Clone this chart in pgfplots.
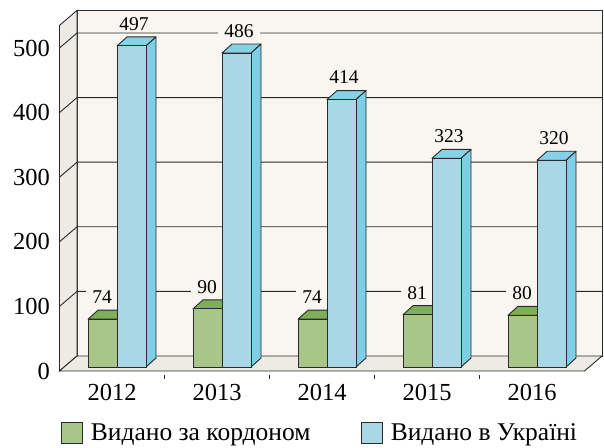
\documentclass[border=0pt]{standalone}
\usepackage{pgfplots}
\usepackage{pgfplotstable}
\pgfplotsset{compat=1.18}
\usepackage{fontspec}
\setmainfont{Liberation Serif}
\definecolor{wallback}{HTML}{F9F6F1}
\definecolor{wallside}{HTML}{EEEBE4}
\definecolor{greenfront}{HTML}{A8C68A}
\definecolor{greentop}{HTML}{7FAE5B}
\definecolor{bluefront}{HTML}{A9D7E6}
\definecolor{blueside}{HTML}{7ECFE5}
\definecolor{bluetop}{HTML}{86D1E6}
\definecolor{edge}{HTML}{2A2A2A}
\tikzset{
  Dsh/.style={shift={(17.5pt,15pt)}},
  bar3d/.style n args={4}{% #1 xshift, #2 front, #3 top, #4 side
    anchor=north west, inner sep=0pt, outer sep=0pt,
    minimum width=29pt, minimum height={\val*0.646pt},
    fill=#2, draw=edge, line width=0.9pt,
    xshift=#1, yshift=4pt,
    append after command={\pgfextra{%
      \filldraw[fill=#3, draw=edge, line width=0.9pt, line join=round]
        (\tikzlastnode.north west) -- ++(10pt,9pt) -- ++(29pt,0pt)
        -- (\tikzlastnode.north east) -- cycle;
      \filldraw[fill=#4, draw=edge, line width=0.9pt, line join=round]
        (\tikzlastnode.south east) -- ++(10pt,9pt)
        -- ([shift={(10pt,9pt)}]\tikzlastnode.north east)
        -- (\tikzlastnode.north east) -- cycle;
    }}
  },
  vallabel/.style={anchor=center, xshift=#1, yshift=26pt,
    fill=wallback, inner xsep=6pt, inner ysep=2pt, text=black,
    font=\fontsize{19.5}{22}\selectfont},
}

\pgfplotstableread{
x g b
0 74 497
1 90 486
2 74 414
3 81 323
4 80 320
}\datatable

\begin{document}
\begin{tikzpicture}
\path (0,0) rectangle (604pt,447pt);
\begin{axis}[
  set layers,
  at={(59.5pt,76pt)}, anchor=south west,
  x=105pt, y=0.646pt,
  xmin=-0.5, xmax=4.5, ymin=0, ymax=535,
  clip=false,
  axis line style={draw=none},
  tick style={draw=none},
  xtick={0,...,4}, xticklabels={2012,2013,2014,2015,2016},
  ytick={0,100,...,500},
  /pgf/number format/assume math mode=true,
  ticklabel style={font=\fontsize{24.5}{28}\selectfont},
  yticklabel style={anchor=east, inner sep=0pt, xshift=-9.5pt},
  xticklabel style={anchor=north, inner sep=0pt, yshift=-13pt},
  legend image code/.code={\draw[#1, draw=edge, line width=0.9pt] (0pt,-2.5pt) rectangle (21pt,18.5pt);},
  legend style={at={(0.0029,-0.179)}, anchor=west, draw=none, fill=none,
    inner sep=0pt, outer sep=0pt,
    font=\fontsize{25.5}{28}\selectfont,
    nodes={inner sep=0pt, anchor=base west},
    /tikz/every odd column/.style={column sep=8pt},
    /tikz/every even column/.style={column sep=0pt}},
  legend columns=2,
  legend cell align=left,
]
\begin{pgfonlayer}{axis background}
\filldraw[fill=wallback, draw=edge, line width=0.9pt] ([Dsh]axis cs:-0.5,0) rectangle ([Dsh]axis cs:4.5,535);
\filldraw[fill=wallside, draw=edge, line width=0.9pt] (axis cs:-0.5,0) -- (axis cs:-0.5,535) -- ([Dsh]axis cs:-0.5,535) -- ([Dsh]axis cs:-0.5,0) -- cycle;
\filldraw[fill=wallside, draw=edge, line width=0.9pt] (axis cs:-0.5,0) -- (axis cs:4.5,0) -- ([Dsh]axis cs:4.5,0) -- ([Dsh]axis cs:-0.5,0) -- cycle;
\pgfplotsinvokeforeach{100,200,300,400,500}{
  \draw[edge, line width=0.9pt] (axis cs:-0.5,#1) -- ([Dsh]axis cs:-0.5,#1) -- ([Dsh]axis cs:4.5,#1);
}
\pgfplotsinvokeforeach{0.5,1.5,2.5,3.5}{
  \draw[edge, line width=0.9pt] ([yshift=-4pt]axis cs:#1,0) -- ([yshift=-8pt]axis cs:#1,0);
}
\end{pgfonlayer}
% green bars
\addplot[forget plot, only marks, mark=*, mark size=0pt,
  mark options={draw=none, fill=none},
  visualization depends on={\thisrow{g} \as \val},
  nodes near coords={\relax},
  every node near coord/.style={bar3d={-24pt}{greenfront}{greentop}{greentop}},
] table[x=x, y=g] {\datatable};
% green value labels
\addplot[forget plot, only marks, mark=*, mark size=0pt,
  mark options={draw=none, fill=none},
  nodes near coords,
  every node near coord/.style={vallabel=-10pt},
] table[x=x, y=g] {\datatable};
% blue bars
\addplot[forget plot, only marks, mark=*, mark size=0pt,
  mark options={draw=none, fill=none},
  visualization depends on={\thisrow{b} \as \val},
  nodes near coords={\relax},
  every node near coord/.style={bar3d={5pt}{bluefront}{bluetop}{blueside}},
] table[x=x, y=b] {\datatable};
% blue value labels
\addplot[forget plot, only marks, mark=*, mark size=0pt,
  mark options={draw=none, fill=none},
  nodes near coords,
  every node near coord/.style={vallabel=22pt},
] table[x=x, y=b] {\datatable};
\addlegendimage{fill=greenfront}
\addlegendentry{\makebox[270pt][l]{Видано за кордоном}}
\addlegendimage{fill=bluefront}
\addlegendentry{Видано в Україні}
\end{axis}
\end{tikzpicture}
\end{document}
